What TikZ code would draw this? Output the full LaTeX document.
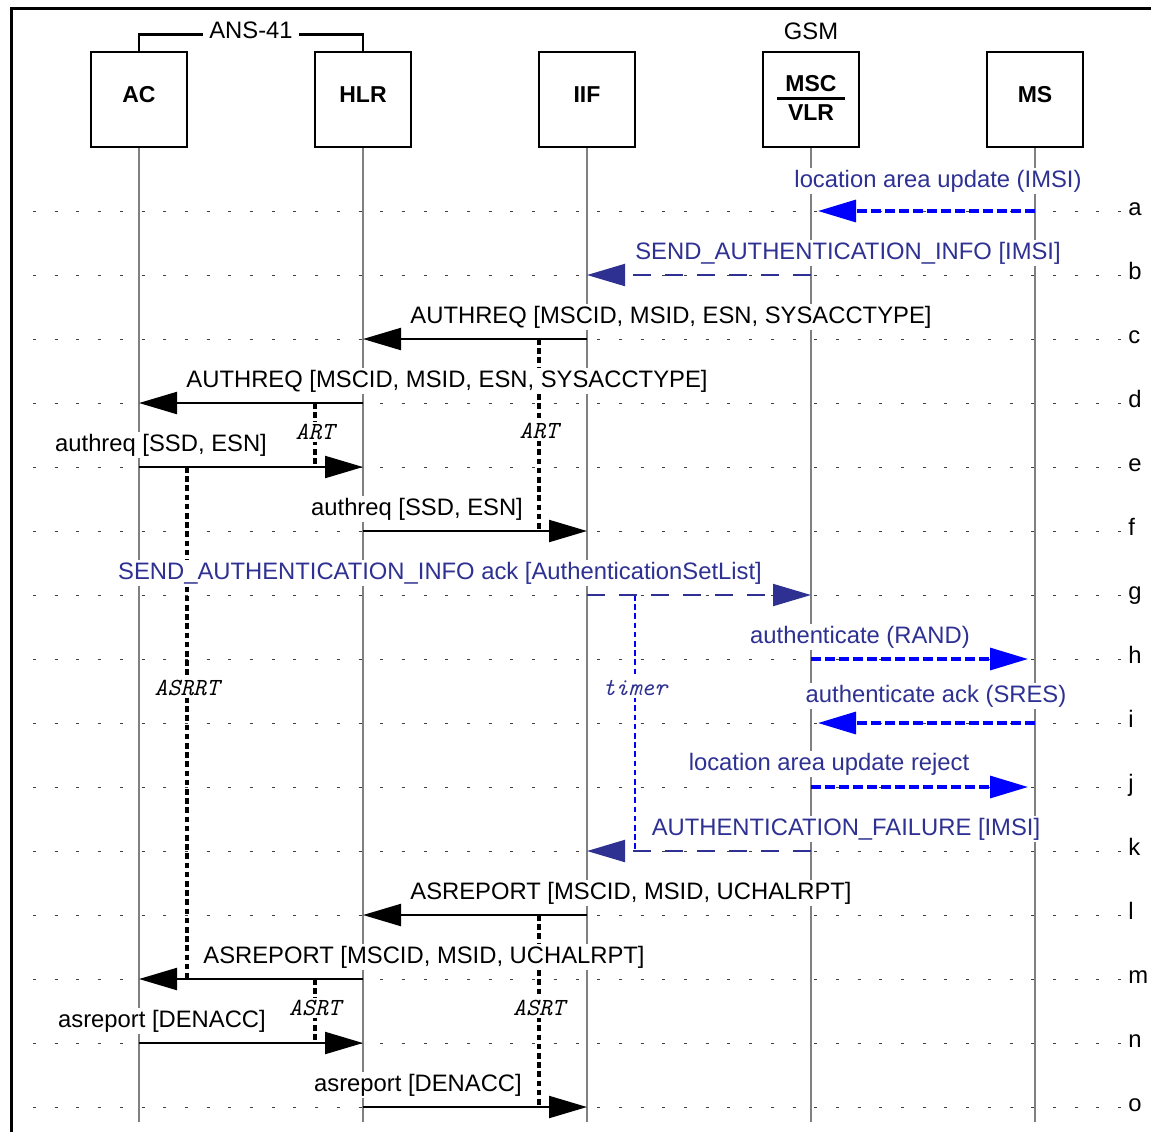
\documentclass[tikz,border=0pt]{standalone}
\usepackage{fontspec}
\setmainfont{Liberation Sans}
\usepackage{tikz}
\usetikzlibrary{arrows.meta,positioning}
\definecolor{navy}{RGB}{46,49,146}
\definecolor{lblue}{RGB}{0,0,255}
\newcommand{\msgfont}{\fontsize{11.9pt}{14pt}\selectfont}
\tikzstyle{frame}=[line width=1.5pt]
\tikzstyle{entity}=[draw, line width=1.3pt, minimum width=48pt, minimum height=47.5pt, inner sep=0pt, font=\fontsize{11.5pt}{14pt}\selectfont\bfseries, text height=8.3pt, text depth=5pt]
\tikzstyle{bracket}=[line width=1.3pt]
\tikzstyle{lifeline}=[gray, line width=1pt]
\tikzstyle{gridline}=[black!75, line width=0.45pt, dash pattern=on 1.5pt off 9.35pt]
\tikzstyle{msg}=[line width=1.1pt, -{Triangle[length=19pt,width=11pt]}]
\tikzstyle{sdl}=[msg, navy, line width=1pt, dash pattern=on 9pt off 7pt]
\tikzstyle{radio}=[msg, lblue, line width=1.6pt, dash pattern=on 5pt off 2pt, shorten >=3.5pt]
\tikzstyle{msglabel}=[fill=white, inner sep=1pt, font=\msgfont, anchor=base]
\tikzstyle{timer}=[line width=1.7pt, dash pattern=on 2.8pt off 1.8pt]
\tikzstyle{timerlabel}=[fill=white, inner sep=1pt, font=\ttfamily\itshape\fontsize{12.3pt}{14pt}\selectfont]
\newcommand{\entity}{\node[entity]}
\newcommand{\msglabel}{\node[msglabel]}

\begin{document}
\begin{tikzpicture}[x=0.5pt, y=-0.5pt]
	\useasboundingbox (0,0) rectangle (1151,1132);
	%% only the left and top sides of the frame lie inside the picture
	\draw[frame] (11,1132) -- (11,8) -- (1151,8);

	%% the five instances
	\entity (AC) at (139,99.5) {AC};
	\entity (HLR) at (363,99.5) {HLR};
	\entity (IIF) at (587,99.5) {IIF};
	\entity (MSC) at (811,99.5) [text height=23.6pt, text depth=2.5pt]
	   {\vbox{\hbox to 34pt{\hss MSC\hss}\kern2.5pt\hrule height 1.6pt\kern2.5pt\hbox to 34pt{\hss VLR\hss}}};
	\entity (MS) at (1035,99.5) {MS};

	%% ANS-41 groups AC and HLR, GSM stands over the MSC
	\draw[bracket] (AC.north) -- ++(0,-16.5) -| node[pos=0.25, fill=white, inner sep=3pt, yshift=2pt, font=\msgfont] (ans) {ANS-41} (HLR.north);
	\node[font=\msgfont] (gsm) at (811,31) {GSM};

	%% one point on every lifeline for each level a..o
	\foreach \n/\x in {AC/139, HLR/363, IIF/587, MSC/811, MS/1035}{
	   \foreach \lv [count=\idx] in {a,...,o}
	      \coordinate (\n-\lv) at (\x,147+64*\idx);
	   \coordinate (\n-end) at (\x,1122);
	}
	\foreach \lv [count=\idx] in {a,...,o}{
	   \draw[gridline] (33,147+64*\idx) -- (1122,147+64*\idx);
	   \node[anchor=base west, inner sep=0pt, font=\msgfont] (lvl-\lv) at (1128,151+64*\idx) {\lv};
	}
	\foreach \n in {AC,HLR,IIF,MSC,MS}
	   \draw[lifeline] (\n.south) -- (\n-end);

	%% timers
	\draw[timer] ([xshift=-24pt]IIF-c) -- node[timerlabel, pos=0.48] (art1) {ART} ([xshift=-24pt]IIF-f);
	\draw[timer] ([xshift=-24pt]HLR-d) -- node[timerlabel, pos=0.45] (art2) {ART} ([xshift=-24pt]HLR-e);
	\draw[timer] ([xshift=24pt]AC-e) -- node[timerlabel, pos=0.432] (asrrt) {ASRRT} ([xshift=24pt]AC-m);
	\draw[timer, lblue, line width=1.4pt] ([xshift=24pt]IIF-g) -- node[timerlabel, text=navy, pos=0.363] (tmr) {timer} ([xshift=24pt]IIF-k);
	\draw[timer] ([xshift=-24pt]IIF-l) -- node[timerlabel, pos=0.484] (asrt1) {ASRT} ([xshift=-24pt]IIF-o);
	\draw[timer] ([xshift=-24pt]HLR-m) -- node[timerlabel, pos=0.45] (asrt2) {ASRT} ([xshift=-24pt]HLR-n);

	%% messages
	\path
		(MS-a) edge[radio] (MSC-a)
		(MSC-b) edge[sdl] (IIF-b)
		(IIF-c) edge[msg] (HLR-c)
		(HLR-d) edge[msg] (AC-d)
		(AC-e) edge[msg] (HLR-e)
		(HLR-f) edge[msg] (IIF-f)
		(IIF-g) edge[sdl] (MSC-g)
		(MSC-h) edge[radio] (MS-h)
		(MS-i) edge[radio] (MSC-i)
		(MSC-j) edge[radio] (MS-j)
		(MSC-k) edge[sdl] (IIF-k)
		(IIF-l) edge[msg] (HLR-l)
		(HLR-m) edge[msg] (AC-m)
		(AC-n) edge[msg] (HLR-n)
		(HLR-o) edge[msg] (IIF-o)
	;

	%% message names
	\msglabel[text=navy] (la) at (938,187) {location area update (IMSI)};
	\msglabel[text=navy] (lb) at (848,259) {SEND\_AUTHENTICATION\_INFO [IMSI]};
	\msglabel (lc) at (671,323) {AUTHREQ [MSCID, MSID, ESN, SYSACCTYPE]};
	\msglabel (ld) at (447,387) {AUTHREQ [MSCID, MSID, ESN, SYSACCTYPE]};
	\msglabel (le) at (161,451) {authreq [SSD, ESN]};
	\msglabel (lf) at (417,515) {authreq [SSD, ESN]};
	\msglabel[text=navy] (lg) at (440,579) {SEND\_AUTHENTICATION\_INFO ack [AuthenticationSetList]};
	\msglabel[text=navy] (lh) at (860,643) {authenticate (RAND)};
	\msglabel[text=navy] (li) at (936,702) {authenticate ack (SRES)};
	\msglabel[text=navy] (lj) at (829,770) {location area update reject};
	\msglabel[text=navy] (lk) at (846,835) {AUTHENTICATION\_FAILURE [IMSI]};
	\msglabel (ll) at (631,899) {ASREPORT [MSCID, MSID, UCHALRPT]};
	\msglabel (lm) at (424,963) {ASREPORT [MSCID, MSID, UCHALRPT]};
	\msglabel (ln) at (162,1027) {asreport [DENACC]};
	\msglabel (lo) at (418,1091) {asreport [DENACC]};
\end{tikzpicture}
\end{document}
